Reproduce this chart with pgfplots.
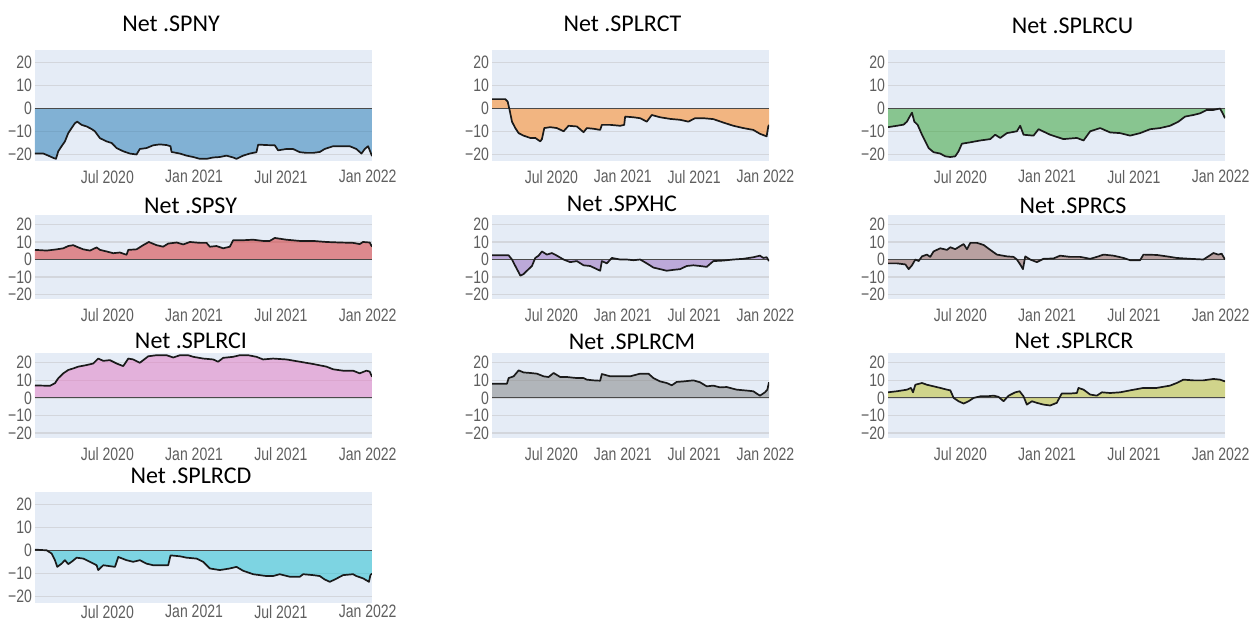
\documentclass[border=0pt]{standalone}
\usepackage{fontspec}
\usepackage{pgfplots}
\usepackage{pgfplotstable}
\pgfplotsset{compat=1.18}
\setmainfont{Carlito}
\newfontfamily\tickfamily[FakeStretch=0.78]{Liberation Sans}
\newcommand\tickfont{\tickfamily\fontsize{9}{10}\selectfont}
\definecolor{bgc}{HTML}{E5ECF6}
\definecolor{gridc}{HTML}{D3D6DC}
\definecolor{zeroc}{HTML}{4A4A4A}
\definecolor{tickc}{HTML}{5E5E5E}
\definecolor{linec}{HTML}{1A1A1A}
\definecolor{cblue}{HTML}{1F77B4}
\definecolor{corange}{HTML}{FF7F0E}
\definecolor{cgreen}{HTML}{2CA02C}
\definecolor{cred}{HTML}{D62728}
\definecolor{cpurple}{HTML}{9467BD}
\definecolor{cbrown}{HTML}{8C564B}
\definecolor{cpink}{HTML}{E377C2}
\definecolor{cgray}{HTML}{7F7F7F}
\definecolor{colive}{HTML}{BCBD22}
\definecolor{ccyan}{HTML}{17BECF}

\pgfplotstableread{
m v
1.00 -19.7
1.58 -19.7
1.92 -20.6
2.27 -21.6
2.45 -22.0
2.61 -18.7
2.84 -16.5
3.07 -14.4
3.30 -10.8
3.53 -8.6
3.76 -6.5
3.92 -5.8
4.22 -7.2
4.57 -7.9
4.91 -9.0
5.14 -10.0
5.49 -13.0
5.95 -14.4
6.30 -15.1
6.64 -17.3
7.10 -18.7
7.56 -19.7
8.02 -20.1
8.25 -17.7
8.71 -17.3
9.17 -16.1
9.63 -15.7
10.10 -16.0
10.37 -16.5
10.44 -19.0
11.02 -19.7
11.48 -20.6
11.94 -21.2
12.40 -22.0
12.86 -22.0
13.32 -21.4
13.78 -21.2
14.24 -20.6
14.70 -21.4
14.93 -22.0
15.39 -20.6
15.85 -19.7
16.31 -19.1
16.43 -15.8
17.00 -16.0
17.58 -16.1
17.81 -18.3
18.38 -17.7
18.84 -17.7
19.31 -19.1
19.77 -19.4
20.23 -19.4
20.69 -19.0
21.03 -17.7
21.61 -16.5
22.07 -16.5
22.76 -16.5
23.22 -17.7
23.57 -19.7
23.80 -17.7
24.03 -16.5
24.19 -19.0
24.30 -20.8
}\dSPNY

\pgfplotstableread{
m v
1.00 4.0
2.12 4.0
2.32 2.9
2.48 -0.7
2.68 -5.8
2.96 -8.6
3.24 -10.8
3.66 -11.9
4.22 -12.9
4.64 -12.9
5.06 -14.4
5.20 -13.4
5.40 -8.6
5.90 -8.2
6.46 -8.6
7.02 -10.0
7.44 -7.6
8.14 -7.9
8.70 -10.4
8.98 -8.6
9.54 -8.9
10.10 -9.4
10.24 -7.2
10.94 -7.2
11.78 -7.6
12.12 -7.2
12.20 -3.6
12.90 -3.9
13.46 -4.3
14.02 -5.8
14.44 -2.9
15.14 -3.9
15.98 -4.6
16.82 -5.0
17.52 -5.8
18.08 -4.3
18.78 -4.3
19.62 -4.7
20.46 -6.2
21.30 -7.6
22.14 -8.6
22.98 -9.4
23.54 -11.1
24.10 -12.2
24.24 -7.9
24.30 -7.2
}\dSPLRCT

\pgfplotstableread{
m v
1.00 -8.2
1.62 -7.6
2.08 -7.1
2.31 -5.8
2.50 -3.6
2.66 -1.9
2.82 -5.8
3.05 -7.2
3.35 -11.5
3.58 -14.4
3.81 -17.3
4.15 -19.1
4.61 -19.7
4.96 -20.9
5.31 -21.2
5.65 -20.9
5.88 -18.7
6.11 -15.4
6.69 -14.8
7.38 -14.0
8.07 -13.4
8.41 -11.5
8.76 -12.9
9.22 -10.8
9.91 -10.0
10.14 -7.6
10.37 -11.5
11.06 -11.9
11.41 -9.1
12.21 -11.5
13.13 -13.4
14.06 -12.9
14.52 -14.0
14.98 -10.0
15.67 -8.6
16.36 -10.5
17.05 -10.8
17.74 -11.9
18.43 -10.8
19.12 -9.1
19.81 -8.6
20.50 -7.6
21.08 -5.8
21.54 -3.6
22.11 -2.9
22.57 -2.2
23.04 -0.7
23.50 -0.7
23.96 -0.1
24.14 -2.2
24.30 -4.3
}\dSPLRCU

\pgfplotstableread{
m v
1.00 5.5
1.81 5.1
2.50 5.8
2.96 6.4
3.30 7.7
3.65 8.2
3.88 7.3
4.34 5.8
4.80 5.1
5.26 6.9
5.49 5.5
5.95 4.6
6.41 3.6
6.87 4.0
7.33 2.7
7.45 5.5
8.02 5.8
8.48 8.2
8.87 10.0
9.40 8.2
9.86 7.3
10.21 9.1
10.79 9.7
11.25 8.6
11.71 10.0
12.40 9.5
12.86 9.5
13.09 7.3
13.55 7.7
14.01 6.4
14.47 7.3
14.70 11.0
15.39 11.0
16.08 11.3
16.77 10.6
17.23 10.6
17.58 12.3
18.38 11.3
19.31 10.6
20.23 10.6
21.15 10.0
22.07 9.7
22.99 9.5
23.45 8.8
23.68 10.0
24.14 9.7
24.30 7.3
}\dSPSY

\pgfplotstableread{
m v
1.00 2.4
2.40 2.4
2.68 0.0
2.96 -3.7
3.24 -7.3
3.38 -9.2
3.66 -8.3
3.94 -6.4
4.36 -3.7
4.64 0.9
4.92 2.2
5.20 4.6
5.62 2.8
6.04 3.7
6.46 2.2
7.02 0.0
7.58 -1.5
8.14 -0.9
8.70 -3.3
9.26 -3.7
9.82 -5.5
10.10 -6.4
10.24 -0.9
10.66 -2.2
11.08 0.9
11.78 0.0
12.34 0.0
12.90 -0.4
13.46 0.0
14.02 -2.2
14.58 -4.6
15.14 -5.5
15.70 -6.4
16.26 -5.9
16.82 -5.5
17.38 -3.7
17.94 -3.3
18.50 -3.7
19.06 -4.2
19.62 -0.9
20.46 -0.6
21.30 0.0
22.14 0.4
22.98 1.3
23.54 2.2
23.82 0.9
24.10 1.3
24.30 -0.9
}\dSPXHC

\pgfplotstableread{
m v
1.00 -2.2
1.62 -2.2
2.20 -2.8
2.43 -5.5
2.66 -3.3
2.89 0.0
3.12 -0.9
3.35 1.8
3.69 2.8
3.92 1.5
4.15 4.6
4.61 6.4
5.08 5.5
5.31 7.0
5.65 5.9
6.00 7.7
6.23 8.8
6.46 5.9
6.69 9.5
7.15 9.5
7.61 8.3
8.07 5.5
8.53 2.8
9.22 1.8
9.68 1.5
9.91 0.0
10.14 -2.8
10.33 -5.5
10.49 1.8
10.83 0.0
11.29 -1.5
11.75 0.4
12.44 0.6
12.90 2.2
13.59 1.5
14.29 1.5
14.98 0.4
15.44 1.5
15.90 2.8
16.59 2.2
17.28 0.9
17.74 -0.4
18.43 -0.4
18.66 2.8
19.58 2.6
20.27 1.8
20.96 0.9
21.88 0.4
22.81 0.0
23.15 1.8
23.50 3.7
23.84 2.8
24.07 3.3
24.30 0.0
}\dSPRCS

\pgfplotstableread{
m v
1.00 7.1
2.04 6.9
2.38 8.4
2.61 11.2
2.96 14.0
3.30 15.9
3.65 16.8
3.99 17.8
4.57 18.7
5.03 19.6
5.37 22.4
5.72 21.1
6.18 21.5
6.64 19.6
7.10 18.1
7.45 22.4
7.79 21.9
8.25 20.0
8.83 23.7
9.40 24.3
10.10 24.3
10.56 23.0
11.02 24.3
11.59 24.3
11.94 23.4
12.63 22.4
13.32 21.9
13.66 20.6
14.01 22.8
14.70 23.4
15.16 24.3
15.74 24.3
16.31 23.4
16.77 21.9
17.46 22.4
18.38 21.9
19.31 20.6
20.23 19.3
21.15 17.8
21.61 16.3
22.30 15.5
22.99 15.5
23.45 14.0
23.91 15.5
24.14 15.0
24.30 12.1
}\dSPLRCI

\pgfplotstableread{
m v
1.00 8.1
2.26 8.1
2.40 11.3
2.82 12.3
3.24 15.7
3.66 14.5
4.22 14.2
4.78 13.8
5.34 12.3
5.76 11.9
6.18 14.2
6.74 11.9
7.30 11.9
8.14 11.3
8.70 11.3
8.98 10.4
9.54 10.0
10.10 9.8
10.24 13.6
10.94 12.3
11.78 12.3
12.62 12.3
13.46 13.8
14.16 13.8
14.58 11.3
15.14 9.4
15.70 8.5
16.12 7.2
16.54 9.1
17.10 9.4
17.94 10.0
18.50 8.9
19.06 6.6
19.62 7.0
20.18 6.0
20.74 6.2
21.58 4.7
22.42 4.2
22.98 3.8
23.26 2.5
23.54 1.3
23.96 3.2
24.16 4.7
24.30 8.9
}\dSPLRCM

\pgfplotstableread{
m v
1.00 3.2
1.62 3.8
2.31 4.7
2.59 5.7
2.73 3.2
2.89 7.5
3.35 8.5
3.69 7.5
4.15 6.6
4.61 5.7
5.08 4.7
5.31 4.3
5.54 0.0
5.88 -1.9
6.23 -3.2
6.57 -1.9
6.92 0.0
7.38 0.9
7.84 0.9
8.30 1.3
8.64 0.6
8.99 -1.9
9.34 1.3
9.80 3.2
10.10 3.8
10.37 0.9
10.60 -3.8
10.95 -1.9
11.29 -2.8
11.75 -3.8
12.21 -4.3
12.67 -2.8
13.01 2.5
13.59 2.5
14.06 2.8
14.17 5.7
14.52 4.7
14.98 1.9
15.44 1.3
15.79 3.2
16.36 2.8
17.05 3.2
17.74 4.3
18.66 5.7
19.58 5.7
20.50 7.0
20.96 8.5
21.42 10.4
22.11 10.0
22.81 10.0
23.50 10.8
23.96 10.4
24.30 9.4
}\dSPLRCR

\pgfplotstableread{
m v
1.00 0.3
1.81 0.0
2.15 -1.4
2.38 -4.3
2.54 -7.2
2.84 -5.8
3.07 -4.3
3.30 -6.0
3.53 -5.0
3.88 -3.2
4.34 -3.6
4.80 -5.0
5.26 -6.5
5.37 -8.6
5.72 -6.5
6.18 -6.9
6.53 -7.2
6.76 -2.9
7.33 -4.3
7.79 -5.0
8.25 -4.3
8.71 -5.8
9.17 -6.5
9.86 -6.5
10.21 -6.5
10.37 -2.2
11.02 -2.6
11.48 -3.2
12.17 -3.6
12.63 -5.0
13.09 -7.9
13.78 -8.6
14.47 -7.9
14.93 -7.2
15.39 -8.9
16.08 -10.4
16.54 -10.8
17.00 -11.2
17.46 -11.2
17.92 -10.4
18.61 -11.5
19.31 -11.5
19.54 -10.4
20.23 -10.8
20.69 -11.2
21.03 -12.7
21.38 -13.7
21.73 -12.7
22.30 -10.8
22.99 -10.4
23.22 -11.2
23.68 -12.2
24.09 -13.7
24.19 -10.8
24.30 -10.1
}\dSPLRCD

\pgfplotsset{
  panel/.style={
    scale only axis, anchor=south west,
    xmin=1, xmax=24.3, ymin=-22.8, ymax=25.4,
    axis background/.style={fill=bgc},
    axis line style={draw=none},
    major tick length=0pt,
    xtick={6,12,18,24},
    xticklabels={Jul 2020,Jan 2021,Jul 2021,Jan 2022},
    ytick={-20,-10,0,10,20},
    yticklabels={−20,−10,0,10,20},
    ymajorgrids, grid style={gridc, line width=0.7pt},
    tick label style={font=\tickfont, text=tickc},
    xticklabel style={yshift=-1.2pt},
    yticklabel style={xshift=2pt},
  },
  col1/.style={width=168.5pt},
  col2/.style={width=138.5pt},
  col3/.style={width=168.5pt},
  rowA/.style={height=55.35pt},
  rowB/.style={height=42.25pt},
  rowC/.style={height=42.35pt},
  rowD/.style={height=55.35pt, xticklabel style={yshift=1.2pt, inner ysep=1pt}},
}
\newcommand\panelplots[2]{%
  \addplot[draw=none, fill=#2, fill opacity=0.5] table {#1} \closedcycle;
  \addplot[zeroc, line width=0.55pt] coordinates {(1,0) (24.3,0)};
  \addplot[linec, line width=0.85pt, line join=round] table {#1};
}

\begin{document}
\begin{tikzpicture}
\useasboundingbox (0,0) rectangle (625pt,312.5pt);
% row 1
\begin{axis}[panel, col1, rowA, at={(17.5pt,232.15pt)}]
\panelplots{\dSPNY}{cblue}
\end{axis}
\begin{axis}[panel, col2, rowA, at={(246pt,232.15pt)}]
\panelplots{\dSPLRCT}{corange}
\end{axis}
\begin{axis}[panel, col3, rowA, at={(444pt,232.15pt)}]
\panelplots{\dSPLRCU}{cgreen}
\end{axis}
% row 2
\begin{axis}[panel, col1, rowB, at={(17.5pt,162.75pt)}]
\panelplots{\dSPSY}{cred}
\end{axis}
\begin{axis}[panel, col2, rowB, at={(246pt,162.75pt)}]
\panelplots{\dSPXHC}{cpurple}
\end{axis}
\begin{axis}[panel, col3, rowB, at={(444pt,162.75pt)}]
\panelplots{\dSPRCS}{cbrown}
\end{axis}
% row 3
\begin{axis}[panel, col1, rowC, at={(17.5pt,93.5pt)}]
\panelplots{\dSPLRCI}{cpink}
\end{axis}
\begin{axis}[panel, col2, rowC, at={(246pt,93.5pt)}]
\panelplots{\dSPLRCM}{cgray}
\end{axis}
\begin{axis}[panel, col3, rowC, at={(444pt,93.5pt)}]
\panelplots{\dSPLRCR}{colive}
\end{axis}
% row 4
\begin{axis}[panel, col1, rowD, at={(17.5pt,11.15pt)}]
\panelplots{\dSPLRCD}{ccyan}
\end{axis}
% titles
\begin{scope}[every node/.style={anchor=base, inner sep=0pt, font=\fontsize{12}{14}\selectfont}]
\node at (85.5pt,296.6pt) {Net .SPNY};
\node at (311.25pt,296.6pt) {Net .SPLRCT};
\node at (536.25pt,295.8pt) {Net .SPLRCU};
\node at (95.3pt,205.8pt) {Net .SPSY};
\node at (311pt,206.7pt) {Net .SPXHC};
\node at (536.5pt,205.5pt) {Net .SPRCS};
\node at (95.5pt,138.3pt) {Net .SPLRCI};
\node at (316pt,137.8pt) {Net .SPLRCM};
\node at (537pt,138.3pt) {Net .SPLRCR};
\node at (95.5pt,70.8pt) {Net .SPLRCD};
\end{scope}
\end{tikzpicture}
\end{document}
